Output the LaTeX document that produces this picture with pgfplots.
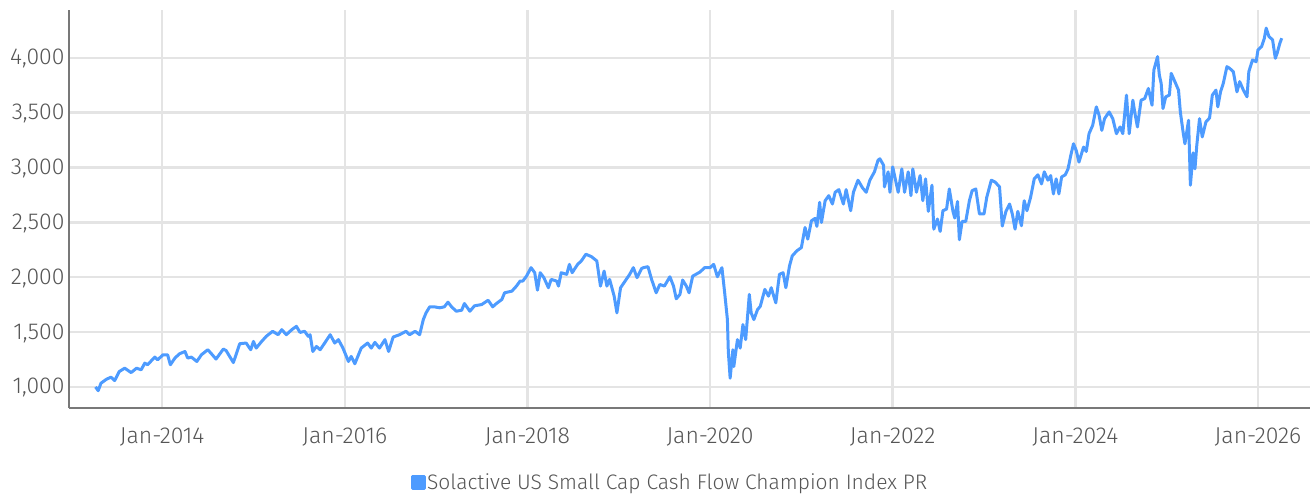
\documentclass[border=0pt]{standalone}
\usepackage{pgfplots}
\pgfplotsset{compat=1.18}
\usepackage{fontspec}
\setmainfont{Fira Sans Light}
\definecolor{linec}{RGB}{77,155,255}
\definecolor{gridc}{RGB}{228,228,228}
\definecolor{axc}{RGB}{120,120,120}
\definecolor{txt}{RGB}{85,85,85}
\begin{document}
\begin{tikzpicture}[x=1pt,y=1pt]
\path[use as bounding box] (0,0) rectangle (1312,496);
\begin{axis}[
  at={(69pt,88pt)}, anchor=south west,
  scale only axis, width=1241pt, height=398pt,
  xmin=2012.98, xmax=2026.57, ymin=808, ymax=4435,
  axis x line*=bottom, axis y line*=left,
  axis line style={axc, line width=1.6pt, -},
  xtick={2014,2016,2018,2020,2022,2024,2026},
  xticklabels={Jan-2014,Jan-2016,Jan-2018,Jan-2020,Jan-2022,Jan-2024,Jan-2026},
  ytick={1000,1500,2000,2500,3000,3500,4000},
  major tick length=0pt,
  grid=major, grid style={gridc, line width=2.4pt},
  tick label style={font=\fontsize{23}{26}\selectfont, text=txt},
  /pgf/number format/.cd, 1000 sep={,}, assume math mode=true,
  /pgfplots/.cd,
  yticklabel style={xshift=-1pt, yshift=-1pt},
  xticklabel style={yshift=-16pt},
  legend style={at={(0.484,-0.186)}, anchor=center, draw=none, fill=none,
    font=\fontsize{21}{24}\selectfont, text=txt, inner sep=0pt,
    nodes={inner xsep=1.5pt}},
  legend image code/.code={\fill[linec] (0pt,-6pt) rectangle (12pt,6pt);},
]
\addplot[linec, line width=3pt, line join=round] coordinates {
(2013.27,1000)(2013.30,966)(2013.33,1034)(2013.39,1070)(2013.44,1089)(2013.48,1058)
(2013.53,1140)(2013.59,1171)(2013.66,1131)(2013.72,1171)(2013.77,1156)(2013.81,1217)
(2013.84,1202)(2013.92,1272)(2013.95,1247)(2014.01,1293)(2014.06,1293)(2014.09,1202)
(2014.14,1263)(2014.19,1302)(2014.25,1323)(2014.28,1263)(2014.32,1272)(2014.38,1232)
(2014.43,1293)(2014.50,1339)(2014.54,1302)(2014.59,1254)(2014.67,1345)(2014.70,1332)
(2014.78,1222)(2014.85,1394)(2014.92,1400)(2014.97,1339)(2015.00,1415)(2015.03,1354)
(2015.09,1415)(2015.14,1461)(2015.21,1507)(2015.27,1476)(2015.31,1522)(2015.36,1476)
(2015.42,1522)(2015.47,1552)(2015.51,1497)(2015.56,1507)(2015.60,1461)(2015.62,1476)
(2015.65,1323)(2015.69,1369)(2015.73,1339)(2015.78,1400)(2015.84,1476)(2015.89,1400)
(2015.93,1431)(2015.98,1354)(2016.04,1232)(2016.07,1278)(2016.11,1211)(2016.18,1354)
(2016.25,1400)(2016.29,1354)(2016.33,1406)(2016.38,1354)(2016.44,1431)(2016.48,1323)
(2016.53,1455)(2016.60,1476)(2016.67,1507)(2016.71,1476)(2016.77,1507)(2016.82,1476)
(2016.86,1614)(2016.89,1675)(2016.93,1730)(2016.98,1730)(2017.04,1721)(2017.09,1730)
(2017.13,1772)(2017.17,1730)(2017.22,1690)(2017.28,1699)(2017.31,1760)(2017.37,1690)
(2017.42,1739)(2017.50,1751)(2017.57,1790)(2017.62,1730)(2017.66,1760)(2017.72,1797)
(2017.75,1858)(2017.83,1873)(2017.88,1919)(2017.92,1965)(2017.95,1965)(2017.99,2010)
(2018.04,2087)(2018.08,2041)(2018.11,1882)(2018.14,2041)(2018.18,1996)(2018.23,1904)
(2018.26,1980)(2018.32,1965)(2018.34,1919)(2018.37,2041)(2018.43,2026)(2018.46,2117)
(2018.49,2041)(2018.55,2117)(2018.59,2148)(2018.64,2209)(2018.70,2188)(2018.76,2148)
(2018.80,1919)(2018.84,2056)(2018.87,1919)(2018.90,1980)(2018.95,1827)(2018.98,1675)
(2019.02,1904)(2019.07,1965)(2019.12,2026)(2019.16,2087)(2019.20,1996)(2019.25,2078)
(2019.27,2087)(2019.32,2096)(2019.36,1980)(2019.41,1858)(2019.45,1934)(2019.50,1919)
(2019.56,2004)(2019.60,1919)(2019.63,1803)(2019.67,1843)(2019.70,1974)(2019.74,1919)
(2019.77,1858)(2019.81,2010)(2019.89,2047)(2019.94,2087)(2020.00,2087)(2020.04,2117)
(2020.08,2004)(2020.13,2087)(2020.16,1858)(2020.19,1614)(2020.20,1323)(2020.22,1080)
(2020.25,1339)(2020.26,1186)(2020.30,1431)(2020.33,1354)(2020.36,1568)(2020.39,1431)
(2020.43,1843)(2020.45,1675)(2020.48,1614)(2020.52,1705)(2020.55,1735)(2020.60,1889)
(2020.64,1827)(2020.67,1904)(2020.72,1766)(2020.76,2026)(2020.80,2041)(2020.83,1904)
(2020.87,2102)(2020.90,2194)(2020.95,2240)(2021.00,2270)(2021.04,2453)(2021.07,2347)
(2021.11,2514)(2021.15,2536)(2021.17,2463)(2021.20,2682)(2021.22,2499)(2021.26,2697)
(2021.30,2743)(2021.34,2667)(2021.37,2774)(2021.41,2798)(2021.46,2667)(2021.49,2798)
(2021.54,2606)(2021.57,2774)(2021.62,2884)(2021.67,2814)(2021.71,2774)(2021.75,2884)
(2021.80,2960)(2021.84,3067)(2021.86,3079)(2021.90,3020)(2021.91,2823)(2021.95,2960)
(2021.97,2774)(2022.00,3005)(2022.06,2774)(2022.10,2987)(2022.13,2774)(2022.17,2960)
(2022.20,2743)(2022.22,2987)(2022.26,2774)(2022.30,2926)(2022.33,2697)(2022.36,2896)
(2022.39,2600)(2022.43,2838)(2022.45,2438)(2022.49,2530)(2022.52,2417)(2022.55,2606)
(2022.59,2621)(2022.62,2804)(2022.66,2600)(2022.68,2539)(2022.71,2690)(2022.73,2341)
(2022.76,2508)(2022.80,2508)(2022.84,2697)(2022.87,2789)(2022.91,2804)(2022.95,2576)
(2023.00,2576)(2023.03,2728)(2023.08,2884)(2023.12,2868)(2023.17,2823)(2023.20,2466)
(2023.24,2600)(2023.28,2667)(2023.31,2576)(2023.34,2438)(2023.37,2600)(2023.41,2469)
(2023.44,2697)(2023.47,2606)(2023.51,2728)(2023.55,2896)(2023.59,2933)(2023.63,2850)
(2023.66,2960)(2023.70,2884)(2023.73,2926)(2023.76,2759)(2023.79,2896)(2023.82,2759)
(2023.85,2914)(2023.89,2933)(2023.92,2987)(2023.95,3109)(2023.98,3216)(2024.01,3155)
(2024.04,3049)(2024.09,3186)(2024.12,3146)(2024.15,3308)(2024.19,3384)(2024.23,3552)
(2024.26,3476)(2024.29,3338)(2024.32,3445)(2024.37,3506)(2024.41,3445)(2024.45,3308)
(2024.49,3369)(2024.52,3308)(2024.56,3659)(2024.59,3308)(2024.63,3613)(2024.65,3506)
(2024.68,3369)(2024.72,3613)(2024.76,3628)(2024.80,3720)(2024.84,3567)(2024.86,3888)
(2024.90,4010)(2024.92,3842)(2024.94,3766)(2024.96,3537)(2024.99,3644)(2025.03,3659)
(2025.05,3858)(2025.09,3782)(2025.13,3705)(2025.15,3506)(2025.18,3323)(2025.20,3216)
(2025.24,3430)(2025.26,2838)(2025.29,3134)(2025.31,2987)(2025.33,3201)(2025.36,3445)
(2025.39,3278)(2025.43,3415)(2025.47,3451)(2025.50,3659)(2025.54,3705)(2025.56,3552)
(2025.59,3689)(2025.62,3766)(2025.66,3919)(2025.69,3903)(2025.73,3873)(2025.77,3689)
(2025.80,3782)(2025.84,3705)(2025.88,3644)(2025.90,3873)(2025.94,3980)(2025.98,3964)
(2026.00,4071)(2026.04,4102)(2026.07,4178)(2026.09,4270)(2026.12,4194)(2026.16,4163)
(2026.19,3995)(2026.21,4041)(2026.24,4133)(2026.26,4178)
};
\addlegendentry{Solactive US Small Cap Cash Flow Champion Index PR}
\end{axis}
\end{tikzpicture}
\end{document}
